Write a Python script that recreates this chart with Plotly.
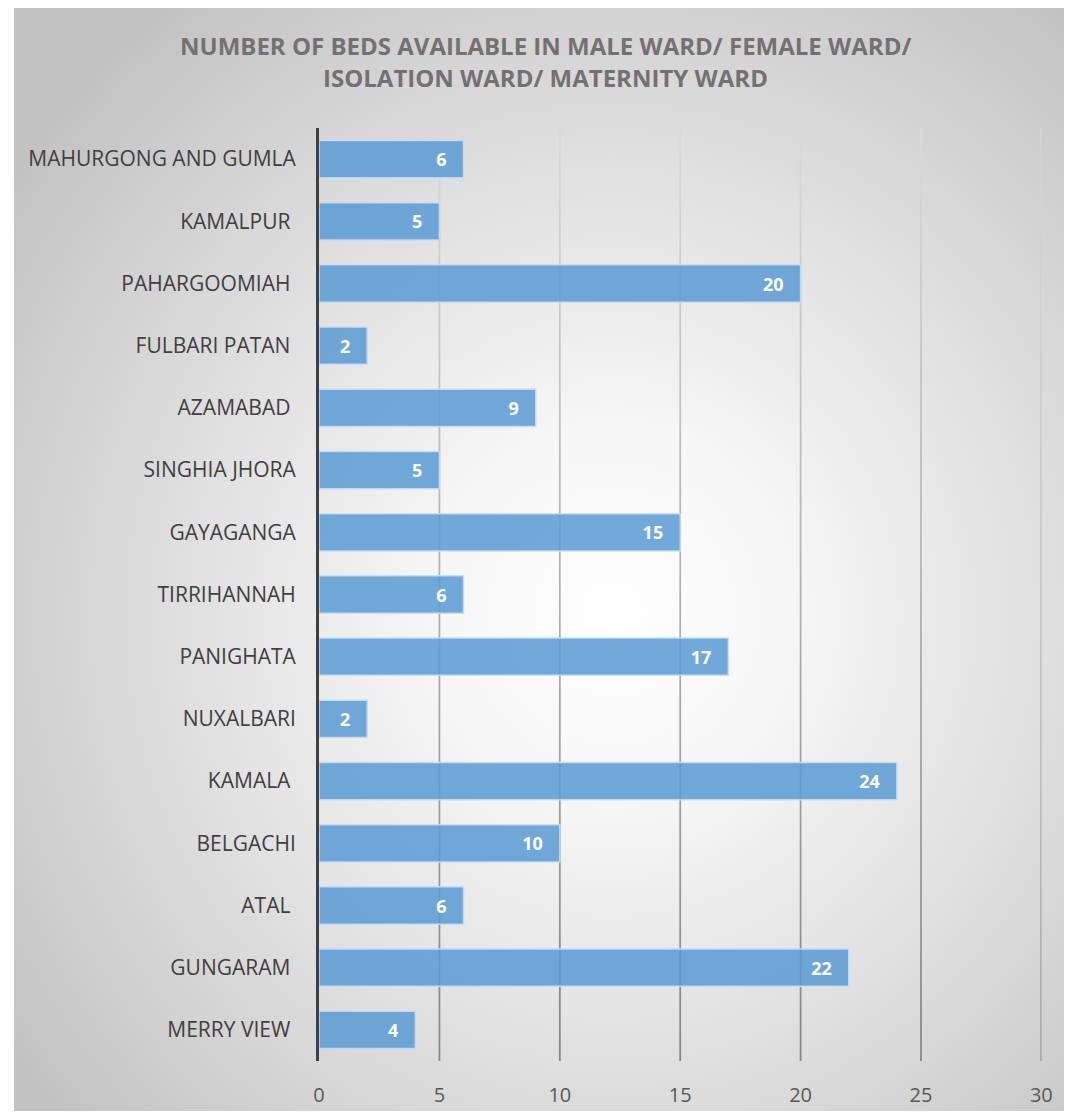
import plotly.graph_objects as go

categories = ["MAHURGONG AND GUMLA", "KAMALPUR ", "PAHARGOOMIAH ", "FULBARI PATAN ",
              "AZAMABAD ", "SINGHIA JHORA", "GAYAGANGA", "TIRRIHANNAH", "PANIGHATA",
              "NUXALBARI", "KAMALA ", "BELGACHI", "ATAL ", "GUNGARAM ", "MERRY VIEW "]
beds = [6, 5, 20, 2, 9, 5, 15, 6, 17, 2, 24, 10, 6, 22, 4]
x_ticks = [0, 5, 10, 15, 20, 25, 30]
title_lines = ["NUMBER OF BEDS AVAILABLE IN MALE WARD/ FEMALE WARD/",
               "ISOLATION WARD/ MATERNITY WARD"]

W, H = 1067, 1103
FONT = "Open Sans"
X_RANGE = [0, 30]

fig = go.Figure()

# background radial gradient (decoration)
fig.add_trace(go.Scatter(
    x=[-0.13, 1.27, 1.27, -0.13, -0.13], y=[-0.25, -0.25, 1.15, 1.15, -0.25],
    mode="lines", line=dict(width=0), fill="toself",
    fillgradient=dict(type="radial",
                      colorscale=[[0, "#ffffff"], [0.25, "#f6f6f6"], [0.7, "#d8d8d8"], [1, "#c2c2c2"]]),
    hoverinfo="skip", showlegend=False, xaxis="x", yaxis="y"))

# vertical gridlines with a light-to-dark gradient, at the x tick values
hw = 0.036
gx, gy = [], []
for t in x_ticks[1:]:
    gx += [t - hw, t + hw, t + hw, t - hw, t - hw, None]
    gy += [0, 0, 1, 1, 0, None]
fig.add_trace(go.Scatter(
    x=gx, y=gy, mode="lines", line=dict(width=0), fill="toself",
    fillgradient=dict(type="vertical",
                      colorscale=[[0, "#858585"], [0.5, "#b0b0b0"], [1, "#dadada"]]),
    hoverinfo="skip", showlegend=False, xaxis="x2", yaxis="y2"))

fig.add_trace(go.Bar(
    y=categories, x=beds, orientation="h",
    marker=dict(color="rgba(91,155,213,0.86)",
                line=dict(color="rgba(200,222,242,0.9)", width=1.5)),
    text=beds, texttemplate="%{x}\u00a0\u00a0\u00a0",
    textposition="inside", insidetextanchor="end", textangle=0,
    insidetextfont=dict(family=FONT, size=18, color="white", weight="bold"),
    cliponaxis=False, hoverinfo="x+y", showlegend=False,
    xaxis="x3", yaxis="y3"))

x0, x1 = 310 / W, 1044 / W
yb, yt = 1 - 1053 / H, 1 - 120 / H

fig.update_layout(
    width=W, height=H,
    margin=dict(l=0, r=0, t=0, b=0),
    paper_bgcolor="white", plot_bgcolor="rgba(0,0,0,0)",
    bargap=0.4,
    xaxis=dict(domain=[0, 1], range=[0, 1], visible=False, fixedrange=True),
    yaxis=dict(domain=[0, 1], range=[0, 1], visible=False, fixedrange=True),
    xaxis2=dict(domain=[x0, x1], anchor="y2", range=X_RANGE, tickvals=x_ticks,
                showgrid=False, zeroline=False, showline=False, ticks="",
                ticklabelstandoff=20,
                tickfont=dict(family=FONT, size=20, color="#595959")),
    yaxis2=dict(domain=[yb, yt], anchor="x2", range=[0, 1], visible=False),
    xaxis3=dict(domain=[x0, x1], anchor="y3", range=X_RANGE, visible=False),
    yaxis3=dict(domain=[yb, yt], anchor="x3", autorange="reversed",
                categoryorder="array", categoryarray=categories,
                showline=True, linecolor="#404040", linewidth=3,
                showgrid=False, ticks="", ticklabelstandoff=16,
                tickfont=dict(family=FONT, size=21, color="#404040")),
    annotations=[
        dict(text=title_lines[0], x=540 / W, y=1 - 37 / H, xref="paper", yref="paper",
             showarrow=False, xanchor="center", yanchor="middle",
             font=dict(family=FONT, size=24, color="#757171", weight="bold")),
        dict(text=title_lines[1], x=540 / W, y=1 - 70 / H, xref="paper", yref="paper",
             showarrow=False, xanchor="center", yanchor="middle",
             font=dict(family=FONT, size=24, color="#757171", weight="bold")),
    ],
)

fig.write_html("out.html")
